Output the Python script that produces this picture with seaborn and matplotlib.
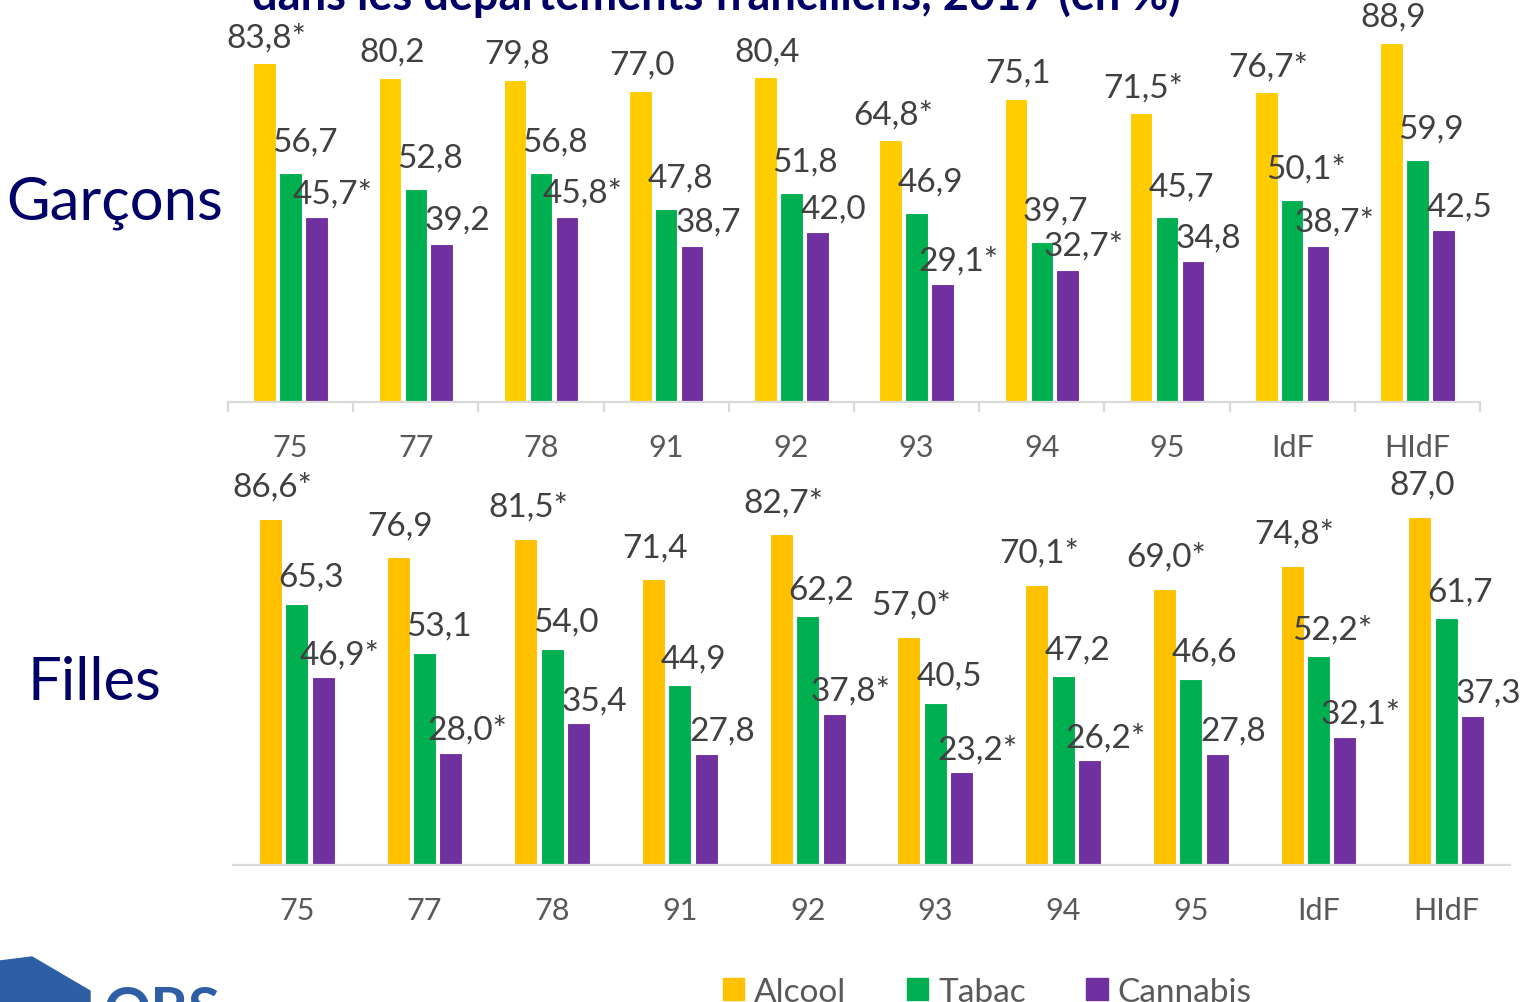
"""Consommations dans les départements franciliens, 2017 (garçons / filles)."""

import matplotlib

matplotlib.use("Agg")

import matplotlib.pyplot as plt
import pandas as pd
import seaborn as sns
from matplotlib.patches import Polygon

W, H = 1525, 1003

departements = ["75", "77", "78", "91", "92", "93", "94", "95", "IdF", "HIdF"]
substances = ["Alcool", "Tabac", "Cannabis"]

garcons_alcool = ["83,8*", "80,2", "79,8", "77,0", "80,4", "64,8*", "75,1", "71,5*", "76,7*", "88,9"]
garcons_tabac = ["56,7", "52,8", "56,8", "47,8", "51,8", "46,9", "39,7", "45,7", "50,1*", "59,9"]
garcons_cannabis = ["45,7*", "39,2", "45,8*", "38,7", "42,0", "29,1*", "32,7*", "34,8", "38,7*", "42,5"]

filles_alcool = ["86,6*", "76,9", "81,5*", "71,4", "82,7*", "57,0*", "70,1*", "69,0*", "74,8*", "87,0"]
filles_tabac = ["65,3", "53,1", "54,0", "44,9", "62,2", "40,5", "47,2", "46,6", "52,2*", "61,7"]
filles_cannabis = ["46,9*", "28,0*", "35,4", "27,8", "37,8*", "23,2*", "26,2*", "27,8", "32,1*", "37,3"]

NAVY = "#000066"
GREY_TXT = "#404040"
TICK_TXT = "#595959"
AXIS_GREY = "#D9D9D9"


def to_value(label):
    return float(label.rstrip("*").replace(",", "."))


def make_frame(series):
    rows = []
    for sub, labels in zip(substances, series):
        for dep, lab in zip(departements, labels):
            rows.append({"dep": dep, "substance": sub, "value": to_value(lab)})
    return pd.DataFrame(rows)


def px_rect(left, top, right, bottom):
    return [left / W, 1 - bottom / H, (right - left) / W, (bottom - top) / H]


def draw_panel(ax, series, palette, offsets, boundary_ticks):
    df = make_frame(series)
    sns.barplot(data=df, x="dep", y="value", hue="substance", order=departements,
                hue_order=substances, palette=palette, width=0.62, gap=0.13,
                saturation=1, edgecolor="white", linewidth=0.8, legend=False,
                ax=ax, errorbar=None)
    ax.set_ylim(0, 100)
    ax.set_xlim(-0.5, len(departements) - 0.5)
    ax.set_xlabel("")
    ax.set_ylabel("")
    ax.set_yticks([])
    for side in ["left", "right", "top"]:
        ax.spines[side].set_visible(False)
    ax.spines["bottom"].set_color(AXIS_GREY)
    ax.spines["bottom"].set_linewidth(1.6)
    ax.tick_params(axis="x", which="major", bottom=True, length=0, pad=22,
                   labelsize=22, labelcolor=TICK_TXT)
    if boundary_ticks:
        ax.set_xticks([i - 0.5 for i in range(len(departements) + 1)], minor=True)
        ax.tick_params(axis="x", which="minor", bottom=True, length=7, width=1.6,
                       color=AXIS_GREY, direction="out")

    for cont, labels, (dx, dy) in zip(ax.containers, series, offsets):
        for bar, lab in zip(cont, labels):
            x = bar.get_x() + bar.get_width() / 2
            ax.annotate(lab, (x, bar.get_height()), xytext=(dx * 0.72, dy * 0.72),
                        textcoords="offset points", ha="center", va="center",
                        fontsize=24, color=GREY_TXT)


def main():
    sns.set_theme(style="white")
    plt.rcParams["font.family"] = ["Lato", "DejaVu Sans"]

    fig = plt.figure(figsize=(W / 100, H / 100), dpi=100)
    fig.patch.set_facecolor("white")

    ax_top = fig.add_axes(px_rect(228, -1, 1480, 403))
    ax_bot = fig.add_axes(px_rect(233, 466, 1510, 866))

    pal_top = {"Alcool": "#FFCC00", "Tabac": "#00B050", "Cannabis": "#7030A0"}
    pal_bot = {"Alcool": "#FFC000", "Tabac": "#00B050", "Cannabis": "#7030A0"}

    draw_panel(ax_top, [garcons_alcool, garcons_tabac, garcons_cannabis], pal_top,
               [(2, 26), (14, 31), (16, 24)], boundary_ticks=True)
    draw_panel(ax_bot, [filles_alcool, filles_tabac, filles_cannabis], pal_bot,
               [(2, 32), (14, 27), (16, 23)], boundary_ticks=False)

    # titre (coupé en haut dans l'original)
    fig.text(716 / W, 1 - 10 / H, "dans les départements franciliens, 2017 (en %)",
             ha="center", va="baseline", fontsize=32.5, fontweight="bold", color=NAVY)

    fig.text(115 / W, 1 - 203 / H, "Garçons", ha="center", va="center", fontsize=43, color=NAVY)
    fig.text(94 / W, 1 - 683 / H, "Filles", ha="center", va="center", fontsize=43, color=NAVY)

    # légende
    handles = [plt.Rectangle((0, 0), 1, 1, color=pal_bot[s]) for s in substances]
    fig.legend(handles, substances, loc="center left", bbox_to_anchor=(706 / W, 1 - 993 / H),
               ncol=3, frameon=False, fontsize=24, handlelength=0.65, handleheight=0.65,
               handletextpad=0.3, columnspacing=1.8, labelcolor=TICK_TXT, borderpad=0)

    # logo ORS (partiel)
    pts = [(0, 962), (32, 958), (90, 992), (90, 1003), (0, 1003)]
    fig.add_artist(Polygon([(x / W, 1 - y / H) for x, y in pts], closed=True,
                           transform=fig.transFigure, color="#2E5FA5"))
    fig.text(104 / W, 1 - 986 / H, "ORS", ha="left", va="top", fontsize=42,
             fontweight="bold", color="#2E5FA5")

    fig.savefig("out.png", dpi=100)
    plt.close(fig)


if __name__ == "__main__":
    main()
